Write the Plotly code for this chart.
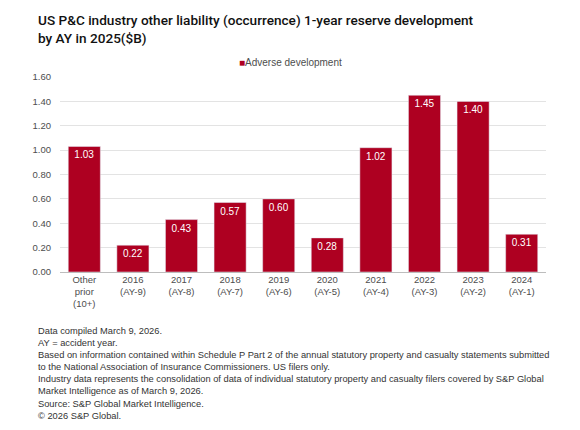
import plotly.graph_objects as go

# categories / values
categorias = ['Other<br>prior<br>(10+)', '2016<br>(AY-9)', '2017<br>(AY-8)', '2018<br>(AY-7)',
              '2019<br>(AY-6)', '2020<br>(AY-5)', '2021<br>(AY-4)', '2022<br>(AY-3)',
              '2023<br>(AY-2)', '2024<br>(AY-1)']
adverse = [1.03, 0.22, 0.43, 0.57, 0.60, 0.28, 1.02, 1.45, 1.40, 0.31]
ticks_y = [0, 0.2, 0.4, 0.6, 0.8, 1.0, 1.2, 1.4, 1.6]

notas = [
    'Data compiled March 9, 2026.',
    'AY = accident year.',
    'Based on information contained within Schedule P Part 2 of the annual statutory property and casualty statements submitted<br>to the National Association of Insurance Commissioners. US filers only.',
    'Industry data represents the consolidation of data of individual statutory property and casualty filers covered by S&P Global<br>Market Intelligence as of March 9, 2026.',
    'Source: S&P Global Market Intelligence.',
    '© 2026 S&P Global.',
]

rojo = '#AE0021'
gris = '#4D4D4D'
fuente = 'Liberation Sans, Arial, sans-serif'

# el body de la pagina mete 8px de margen, se compensa aqui
alto_plot = 195
fig = go.Figure(go.Bar(
    x=categorias,
    y=adverse,
    name='Adverse development',
    marker=dict(color=rojo),
    text=[f'{v:.2f}' for v in adverse],
    textposition='inside',
    insidetextanchor='end',
    textfont=dict(color='white', size=10, family=fuente),
    cliponaxis=False,
))

fig.update_layout(
    width=580, height=430,
    margin=dict(l=52, r=42, t=69, b=166, autoexpand=False),
    paper_bgcolor='white', plot_bgcolor='white',
    bargap=0.34,
    showlegend=False,
    font=dict(family=fuente, color=gris),
)

fig.update_yaxes(range=[0, 1.6], tickvals=ticks_y, tickformat='.2f',
                 showgrid=True, gridcolor='#E3E3E3', gridwidth=1,
                 zeroline=True, zerolinecolor='#BDBDBD', zerolinewidth=1,
                 tickfont=dict(size=9.5, color=gris), ticks='', ticklabelstandoff=8)
fig.update_xaxes(tickfont=dict(size=9.5, color=gris), showline=False, ticks='')

# titulo
fig.add_annotation(text='US P&C industry other liability (occurrence) 1-year reserve development<br>by AY in 2025($B)',
                   xref='paper', yref='paper', x=-24 / 486, y=1 + (69 - 2) / alto_plot,
                   xanchor='left', yanchor='top', align='left', showarrow=False,
                   font=dict(size=13.6, color='#111111', family='Roboto, sans-serif', weight=500))

# leyenda
fig.add_annotation(text=f'<span style="color:{rojo}">■</span>Adverse development',
                   xref='paper', yref='paper', x=0.475, y=1 + (69 - 54) / alto_plot,
                   xanchor='center', yanchor='middle', showarrow=False,
                   font=dict(size=10, color=gris, family=fuente))

# notas al pie
fig.add_annotation(text='<br>'.join(notas), xref='paper', yref='paper',
                   x=-24 / 486, y=-(316 - 264) / alto_plot, xanchor='left', yanchor='top',
                   align='left', showarrow=False,
                   font=dict(size=9.3, color='#333333', family=fuente))

fig.write_html('out.html')
